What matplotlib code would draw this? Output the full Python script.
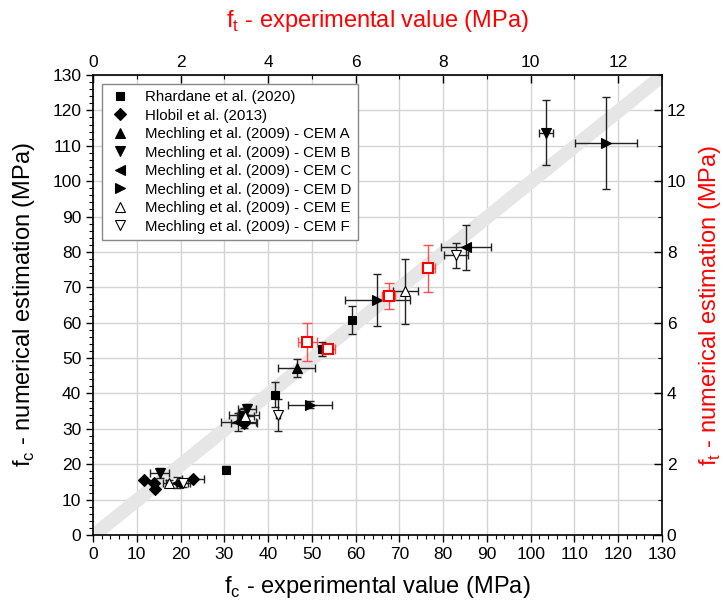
import numpy as np
import matplotlib.pyplot as plt
from matplotlib.ticker import MultipleLocator

plt.rcParams['font.family'] = ['Liberation Sans', 'DejaVu Sans']

# ---- data (fc in MPa) ----
rh_x = [30.4, 41.6, 52.4, 59.2]
rh_y = [18.4, 39.7, 52.6, 60.7]
rh_xe = [0.5, 0.5, 0.5, 0.5]
rh_ye = [1.0, 3.4, 1.9, 3.9]

hl_x = [11.7, 14.0, 14.2, 22.9, 34.5]
hl_y = [15.4, 14.7, 13.1, 15.8, 31.6]
hl_xe = [0.0, 0.0, 0.0, 2.5, 3.0]
hl_ye = [0.0, 0.0, 0.0, 0.0, 1.5]

cemA_x = [46.5]
cemA_y = [47.2]
cemA_xe = [4.3]
cemA_ye = [2.5]

cemB_x = [15.2, 35.2, 103.5]
cemB_y = [17.5, 35.5, 113.7]
cemB_xe = [2.2, 2.0, 1.6]
cemB_ye = [1.5, 1.5, 9.2]

cemC_x = [19.1, 33.2, 85.2]
cemC_y = [14.8, 31.9, 81.3]
cemC_xe = [2.5, 4.0, 5.8]
cemC_ye = [1.5, 2.5, 6.3]

cemD_x = [34.5, 49.6, 65.0, 117.2]
cemD_y = [34.0, 36.8, 66.5, 110.9]
cemD_xe = [3.5, 5.1, 7.5, 7.0]
cemD_ye = [2.0, 1.0, 7.3, 13.0]

cemE_x = [17.4, 34.8, 71.4]
cemE_y = [14.6, 33.5, 68.9]
cemE_xe = [1.5, 2.0, 2.9]
cemE_ye = [1.0, 1.5, 9.2]

cemF_x = [20.6, 42.3, 82.9]
cemF_y = [14.6, 33.8, 79.0]
cemF_xe = [1.5, 0.5, 2.7]
cemF_ye = [1.0, 4.5, 3.5]

# tensile strength points (ft, MPa) - red, on top/right axes
ft_x = [4.90, 5.38, 6.76, 7.66]
ft_y = [5.45, 5.26, 6.76, 7.54]
ft_xe = [0.22, 0.15, 0.15, 0.15]
ft_ye = [0.54, 0.10, 0.36, 0.67]

band = 2.5

fig = plt.figure(figsize=(7.23, 6.10), dpi=100)
ax = fig.add_axes([0.1286, 0.123, 0.787, 0.754])

xx = np.array([0, 130])
ax.fill_between(xx, xx - band, xx + band, color='#e6e6e6', lw=0, zorder=1)

series = [
    (rh_x, rh_y, rh_xe, rh_ye, 's', 'black', 'Rhardane et al. (2020)', 5.5),
    (hl_x, hl_y, hl_xe, hl_ye, 'D', 'black', 'Hlobil et al. (2013)', 6),
    (cemA_x, cemA_y, cemA_xe, cemA_ye, '^', 'black', 'Mechling et al. (2009) - CEM A', 7.5),
    (cemB_x, cemB_y, cemB_xe, cemB_ye, 'v', 'black', 'Mechling et al. (2009) - CEM B', 7.5),
    (cemC_x, cemC_y, cemC_xe, cemC_ye, '<', 'black', 'Mechling et al. (2009) - CEM C', 7.5),
    (cemD_x, cemD_y, cemD_xe, cemD_ye, '>', 'black', 'Mechling et al. (2009) - CEM D', 7.5),
    (cemE_x, cemE_y, cemE_xe, cemE_ye, '^', 'white', 'Mechling et al. (2009) - CEM E', 7.5),
    (cemF_x, cemF_y, cemF_xe, cemF_ye, 'v', 'white', 'Mechling et al. (2009) - CEM F', 7.5),
]
handles = []
for x, y, xe, ye, m, fc, lab, ms in series:
    ax.errorbar(x, y, xerr=xe, yerr=ye, fmt='none', ecolor='#222222',
                elinewidth=1, capsize=3, capthick=1, zorder=3)
    h, = ax.plot(x, y, ls='none', marker=m, ms=ms, mfc=fc, mec='black',
                 mew=0.8, label=lab, zorder=4)
    handles.append(h)

ax.set_xlim(0, 130)
ax.set_ylim(0, 130)
ax.xaxis.set_major_locator(MultipleLocator(10))
ax.yaxis.set_major_locator(MultipleLocator(10))
ax.xaxis.set_minor_locator(MultipleLocator(2))
ax.yaxis.set_minor_locator(MultipleLocator(2))
ax.grid(True, which='major', color='#d4d4d4', lw=1)
ax.set_axisbelow(True)
ax.tick_params(which='major', direction='out', length=5, width=1, labelsize=12.5)
ax.tick_params(which='minor', direction='out', length=3, width=0.8)
ax.set_xlabel('f$_\\mathregular{c}$ - experimental value (MPa)', fontsize=17, labelpad=9)
ax.set_ylabel('f$_\\mathregular{c}$ - numerical estimation (MPa)', fontsize=17, labelpad=11)
for s in ax.spines.values():
    s.set_linewidth(1.2)

leg = ax.legend(handles=handles, loc='upper left', fontsize=10.8, frameon=True,
                fancybox=False, edgecolor='#888888', framealpha=1,
                handletextpad=0.9, borderpad=0.4, labelspacing=0.3,
                handlelength=1.6, bbox_to_anchor=(0.0, 1.0), borderaxespad=0.6)
leg.get_frame().set_linewidth(1)

# secondary axes for tensile strength
ax2 = fig.add_axes(ax.get_position(), frameon=False)
ax2.set_xlim(0, 13)
ax2.set_ylim(0, 13)
ax2.xaxis.tick_top()
ax2.yaxis.tick_right()
ax2.xaxis.set_label_position('top')
ax2.yaxis.set_label_position('right')
ax2.xaxis.set_major_locator(MultipleLocator(2))
ax2.yaxis.set_major_locator(MultipleLocator(2))
ax2.xaxis.set_minor_locator(MultipleLocator(1))
ax2.yaxis.set_minor_locator(MultipleLocator(1))
ax2.tick_params(which='major', direction='in', length=6, width=1, labelsize=12.5)
ax2.tick_params(which='minor', direction='in', length=3, width=0.8)
ax2.errorbar(ft_x, ft_y, xerr=ft_xe, yerr=ft_ye, fmt='none', ecolor='#ff5050',
             elinewidth=1, capsize=3.5, capthick=1, zorder=3)
ax2.plot(ft_x, ft_y, ls='none', marker='s', ms=6.5, mfc='white', mec='red',
         mew=1.5, zorder=4)
ax2.set_xlabel('f$_\\mathregular{t}$ - experimental value (MPa)', fontsize=17,
               color='red', labelpad=20)
ax2.set_ylabel('f$_\\mathregular{t}$ - numerical estimation (MPa)', fontsize=17,
               color='red', labelpad=8)

fig.savefig('out.png', dpi=100)
